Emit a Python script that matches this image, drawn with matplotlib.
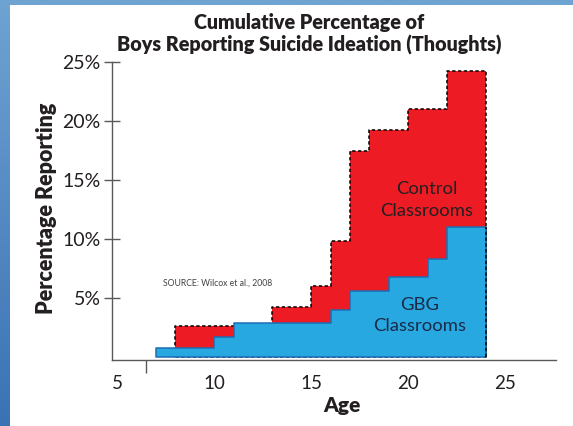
import numpy as np
import matplotlib
matplotlib.use("Agg")
import matplotlib.pyplot as plt
from matplotlib.patches import Rectangle
from matplotlib.colors import LinearSegmentedColormap

# Cumulative % of boys reporting suicide ideation, by age
gbg_ages = [7, 10, 11, 16, 17, 19, 21, 22, 24]
gbg_pct = [0.8, 1.7, 2.85, 4.0, 5.6, 6.75, 8.3, 11.0, 11.0]

control_ages = [8, 13, 15, 16, 17, 18, 20, 22, 24]
control_pct = [2.65, 4.25, 6.0, 9.8, 17.5, 19.25, 21.0, 24.25, 24.25]

x_ticks = [5, 10, 15, 20, 25]
y_ticks = [5, 10, 15, 20, 25]
y_tick_labels = ["5%", "10%", "15%", "20%", "25%"]

RED = "#ED1C24"
BLUE = "#27A8E0"
BLUE_EDGE = "#1C6DB4"
INK = "#231F20"
FONT = ["Lato", "DejaVu Sans"]

plt.rcParams["font.family"] = FONT

fig = plt.figure(figsize=(5.73, 4.26), dpi=100)

# slide background: blue gradient with a white panel
bg = fig.add_axes([0, 0, 1, 1], zorder=-10)
cmap = LinearSegmentedColormap.from_list("slide", ["#3a72b4", "#6ea3d2"])
bg.imshow(np.linspace(0, 1, 256).reshape(-1, 1), aspect="auto", cmap=cmap,
          origin="lower", extent=[0, 1, 0, 1])
bg.add_patch(Rectangle((10 / 573, 0), 1, 1 - 5 / 426, transform=bg.transAxes,
                       facecolor="white", edgecolor="none"))
bg.set_xlim(0, 1)
bg.set_ylim(0, 1)
bg.axis("off")

ax = fig.add_axes([112 / 573, 66 / 426, 444 / 573, 298 / 426])
ax.set_facecolor("none")

ax.fill_between(control_ages, control_pct, step="post", facecolor=RED,
                edgecolor="black", linestyle=(0, (2.2, 1.6)), linewidth=1.1,
                zorder=1)
ax.fill_between(gbg_ages, gbg_pct, step="post", facecolor=BLUE,
                edgecolor=BLUE_EDGE, linewidth=1.1, zorder=2)
ax.vlines(control_ages[-1], 0, gbg_pct[-1], colors="black",
          linestyles=(0, (2.2, 1.6)), linewidth=1.1, zorder=3)

ax.set_xlim(4.73, 27.62)
ax.set_ylim(-0.25, 25)

for side in ("top", "right"):
    ax.spines[side].set_visible(False)
for side in ("left", "bottom"):
    ax.spines[side].set_color("#58595B")
    ax.spines[side].set_linewidth(1.0)

ax.set_yticks(y_ticks)
ax.set_yticklabels(y_tick_labels)
ax.tick_params(axis="y", direction="inout", length=12, width=1.0,
               color="#58595B", labelsize=14, labelcolor=INK, pad=2)

ax.set_xticks(x_ticks)
ax.tick_params(axis="x", length=0, labelsize=13.5, labelcolor=INK, pad=11)
ax.set_xticks([6.5], minor=True)
ax.tick_params(axis="x", which="minor", direction="out", length=9.5,
               width=1.0, color="#58595B")

ax.set_xlabel("Age", fontsize=15, fontweight="heavy", color=INK, labelpad=1)
ax.xaxis.set_label_coords(0.518, -0.12)
ax.set_ylabel("Percentage Reporting", fontsize=15.5, fontweight="heavy",
              color=INK, labelpad=0)
ax.yaxis.set_label_coords(-0.123, 0.51)

fig.text(309 / 573, 1 - 22 / 426, "Cumulative Percentage of",
         ha="center", va="center", fontsize=14.2, fontweight="heavy", color=INK)
fig.text(309 / 573, 1 - 45 / 426, "Boys Reporting Suicide Ideation (Thoughts)",
         ha="center", va="center", fontsize=14.2, fontweight="heavy", color=INK)

ax.text(20.97, 13.3, "Control\nClassrooms", ha="center", va="center",
        fontsize=13.3, color=INK, linespacing=1.45, zorder=4)
ax.text(20.6, 3.5, "GBG\nClassrooms", ha="center", va="center",
        fontsize=13.3, color="#1B2A49", linespacing=1.4, zorder=4)
ax.text(7.35, 6.25, "SOURCE: Wilcox et al., 2008", ha="left", va="center",
        fontsize=6.2, color="#414042", zorder=4)

fig.savefig("out.png", dpi=100)
